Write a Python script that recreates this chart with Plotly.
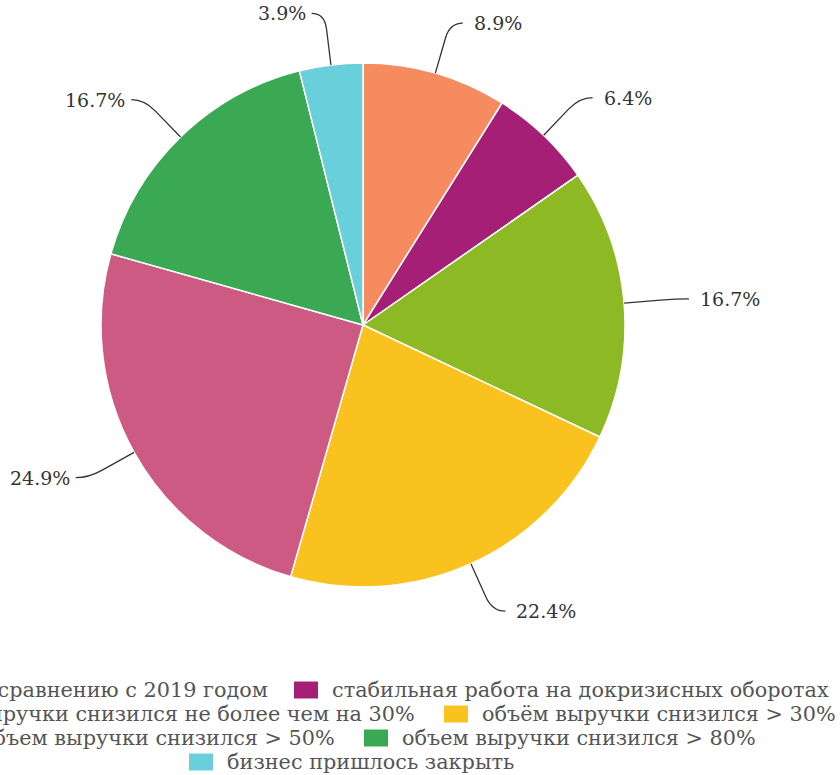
import math
import plotly.graph_objects as go

# ---- data ----
categories = [
    "рост выручки по сравнению с 2019 годом",
    "стабильная работа на докризисных оборотах",
    "объём выручки снизился не более чем на 30%",
    "объём выручки снизился > 30%",
    "объем выручки снизился > 50%",
    "объем выручки снизился > 80%",
    "бизнес пришлось закрыть",
]
values = [8.9, 6.4, 16.7, 22.4, 24.9, 16.7, 3.9]
colors = ["#F58B5E", "#A61F76", "#8DBA24", "#F9C21E", "#CD5A82", "#3BA853", "#69D0DB"]

# ---- layout constants (pixels) ----
W, H = 840, 775
cx, cy, R = 363, 325, 262
LEN1, LEN2 = 52, 13
GAP_RIGHT, GAP_LEFT = 9, 4
LABEL_FONT = dict(family="DejaVu Serif", size=19, color="#333333")
LEGEND_FONT = dict(family="DejaVu Serif", size=20.8, color="#555555")


def px(x):
    return x / W


def py(y):
    return 1 - y / H


fig = go.Figure()
fig.add_trace(go.Pie(
    labels=categories,
    values=values,
    marker=dict(colors=colors, line=dict(color="white", width=1.5)),
    sort=False,
    direction="clockwise",
    rotation=0,
    textinfo="none",
    hoverinfo="label+percent",
    showlegend=False,
    domain=dict(x=[px(cx - R), px(cx + R)], y=[py(cy + R), py(cy - R)]),
))

shapes = []
annotations = []

# outside labels with curved leader lines
total = sum(values)
cum = 0.0
for v in values:
    theta = 2 * math.pi * (cum + v / 2) / total
    cum += v
    s, c = math.sin(theta), math.cos(theta)
    x0, y0 = cx + R * s, cy - R * c
    x1, y1 = cx + (R + LEN1) * s, cy - (R + LEN1) * c
    xa, ya = x0 + 0.7 * (x1 - x0), y0 + 0.7 * (y1 - y0)
    side = 1 if s >= 0 else -1
    x2, y2 = x1 + side * LEN2, y1
    path = (f"M {px(x0)},{py(y0)} L {px(xa)},{py(ya)} "
            f"Q {px(x1)},{py(y1)} {px(x2)},{py(y2)}")
    shapes.append(dict(type="path", xref="paper", yref="paper", path=path,
                       line=dict(color="#333333", width=1.3), layer="above"))
    gap = GAP_RIGHT if side > 0 else GAP_LEFT
    annotations.append(dict(
        x=px(x2 + side * gap), y=py(y2), xref="paper", yref="paper",
        text=f"{v:.1f}%", showarrow=False,
        xanchor="left" if side > 0 else "right", yanchor="middle",
        font=LABEL_FONT,
    ))

# legend (centered rows, as in the reference)
# (row centre y, text anchor x, anchor side) per category
legend_pos = [
    (690, 270, "right"),
    (690, 330, "left"),
    (714, 417, "right"),
    (714, 480, "left"),
    (738, 337, "right"),
    (738, 400, "left"),
    (762, 225, "left"),
]
MK_W, MK_H, MK_GAP = 24, 17, 12
for name, col, (ry, tx, anchor) in zip(categories, colors, legend_pos):
    if anchor == "left":
        mk_x1 = tx - MK_GAP
    else:
        est_w = len(name) * 12.5
        mk_x1 = tx - est_w - MK_GAP
    mk_x0 = mk_x1 - MK_W
    shapes.append(dict(type="rect", xref="paper", yref="paper",
                       x0=px(mk_x0), x1=px(mk_x1),
                       y0=py(ry + MK_H / 2), y1=py(ry - MK_H / 2),
                       fillcolor=col, line=dict(width=0), layer="above"))
    annotations.append(dict(
        x=px(tx), y=py(ry), xref="paper", yref="paper", text=name,
        showarrow=False, xanchor=anchor, yanchor="middle", font=LEGEND_FONT,
    ))

fig.update_layout(
    width=W, height=H,
    margin=dict(l=0, r=0, t=0, b=0),
    paper_bgcolor="white", plot_bgcolor="white",
    shapes=shapes, annotations=annotations,
    showlegend=False,
)

fig.write_html(
    "out.html",
    config={"displayModeBar": False},
    post_script="document.body.style.margin='0';document.body.style.overflow='hidden';",
)
